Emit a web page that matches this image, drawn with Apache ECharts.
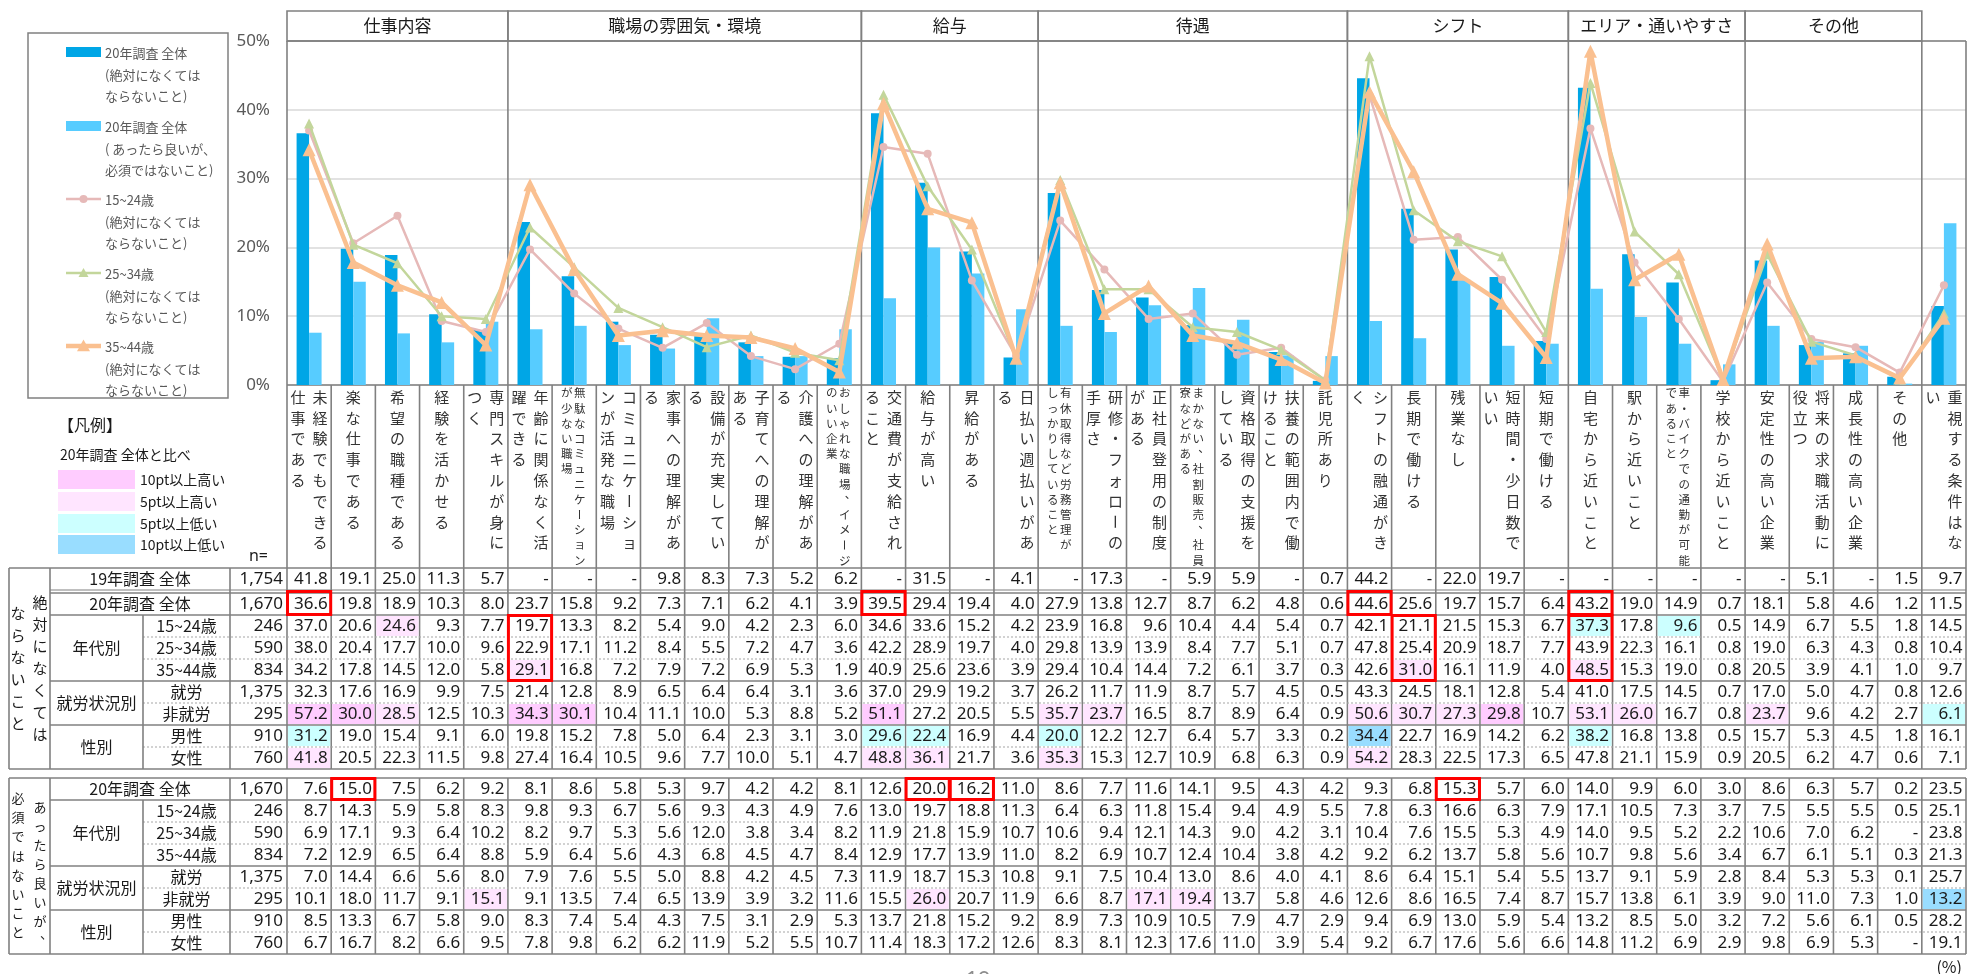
<!DOCTYPE html>
<html><head><meta charset="utf-8">
<script src="https://cdn.jsdelivr.net/npm/echarts@6/dist/echarts.min.js"></script>
<style>html,body{margin:0;padding:0;background:#fff}#c{width:1968px;height:974px}</style>
</head><body><div id="c"></div><script>
// ---------- data ----------
const categoryLines = [
 ['未経験でもできる','仕事である'],['楽な仕事である'],['希望の職種である'],['経験を活かせる'],['専門スキルが身に','つく'],
 ['年齢に関係なく活','躍できる'],['無駄なコミュニケーション','が少ない職場'],['コミュニケーショ','ンが活発な職場'],['家事への理解があ','る'],
 ['設備が充実してい','る'],['子育てへの理解が','ある'],['介護への理解があ','る'],['おしゃれな職場、イメージ','のいい企業'],
 ['交通費が支給され','ること'],['給与が高い'],['昇給がある'],['日払い週払いがあ','る'],
 ['有休取得など労務管理が','しっかりしていること'],['研修・フォローの','手厚さ'],['正社員登用の制度','がある'],['まかない、社割販売、社員','寮などがある'],
 ['資格取得の支援を','している'],['扶養の範囲内で働','けること'],['託児所あり'],
 ['シフトの融通がき','く'],['長期で働ける'],['残業なし'],['短時間・少日数で','いい'],['短期で働ける'],
 ['自宅から近いこと'],['駅から近いこと'],['車・バイクでの通勤が可能','であること'],['学校から近いこと'],
 ['安定性の高い企業'],['将来の求職活動に','役立つ'],['成長性の高い企業'],['その他'],['重視する条件はな','い']
];
const categories = categoryLines.map(p => p.join(''));
const groupNames = ['仕事内容','職場の雰囲気・環境','給与','待遇','シフト','エリア・通いやすさ','その他'];
const groupSizes = [5,8,4,7,5,4,4];
const yTicks = [0,10,20,30,40,50];

const y19All    = [41.8,19.1,25.0,11.3,5.7,null,null,null,9.8,8.3,7.3,5.2,6.2,null,31.5,null,4.1,null,17.3,null,5.9,5.9,null,0.7,44.2,null,22.0,19.7,null,null,null,null,null,null,5.1,null,1.5,9.7];
const abs20All  = [36.6,19.8,18.9,10.3,8.0,23.7,15.8,9.2,7.3,7.1,6.2,4.1,3.9,39.5,29.4,19.4,4.0,27.9,13.8,12.7,8.7,6.2,4.8,0.6,44.6,25.6,19.7,15.7,6.4,43.2,19.0,14.9,0.7,18.1,5.8,4.6,1.2,11.5];
const abs1524   = [37.0,20.6,24.6,9.3,7.7,19.7,13.3,8.2,5.4,9.0,4.2,2.3,6.0,34.6,33.6,15.2,4.2,23.9,16.8,9.6,10.4,4.4,5.4,0.7,42.1,21.1,21.5,15.3,6.7,37.3,17.8,9.6,0.5,14.9,6.7,5.5,1.8,14.5];
const abs2534   = [38.0,20.4,17.7,10.0,9.6,22.9,17.1,11.2,8.4,5.5,7.2,4.7,3.6,42.2,28.9,19.7,4.0,29.8,13.9,13.9,8.4,7.7,5.1,0.7,47.8,25.4,20.9,18.7,7.7,43.9,22.3,16.1,0.8,19.0,6.3,4.3,0.8,10.4];
const abs3544   = [34.2,17.8,14.5,12.0,5.8,29.1,16.8,7.2,7.9,7.2,6.9,5.3,1.9,40.9,25.6,23.6,3.9,29.4,10.4,14.4,7.2,6.1,3.7,0.3,42.6,31.0,16.1,11.9,4.0,48.5,15.3,19.0,0.8,20.5,3.9,4.1,1.0,9.7];
const absWork   = [32.3,17.6,16.9,9.9,7.5,21.4,12.8,8.9,6.5,6.4,6.4,3.1,3.6,37.0,29.9,19.2,3.7,26.2,11.7,11.9,8.7,5.7,4.5,0.5,43.3,24.5,18.1,12.8,5.4,41.0,17.5,14.5,0.7,17.0,5.0,4.7,0.8,12.6];
const absNonWork= [57.2,30.0,28.5,12.5,10.3,34.3,30.1,10.4,11.1,10.0,5.3,8.8,5.2,51.1,27.2,20.5,5.5,35.7,23.7,16.5,8.7,8.9,6.4,0.9,50.6,30.7,27.3,29.8,10.7,53.1,26.0,16.7,0.8,23.7,9.6,4.2,2.7,6.1];
const absMale   = [31.2,19.0,15.4,9.1,6.0,19.8,15.2,7.8,5.0,6.4,2.3,3.1,3.0,29.6,22.4,16.9,4.4,20.0,12.2,12.7,6.4,5.7,3.3,0.2,34.4,22.7,16.9,14.2,6.2,38.2,16.8,13.8,0.5,15.7,5.3,4.5,1.8,16.1];
const absFemale = [41.8,20.5,22.3,11.5,9.8,27.4,16.4,10.5,9.6,7.7,10.0,5.1,4.7,48.8,36.1,21.7,3.6,35.3,15.3,12.7,10.9,6.8,6.3,0.9,54.2,28.3,22.5,17.3,6.5,47.8,21.1,15.9,0.9,20.5,6.2,4.7,0.6,7.1];

const opt20All  = [7.6,15.0,7.5,6.2,9.2,8.1,8.6,5.8,5.3,9.7,4.2,4.2,8.1,12.6,20.0,16.2,11.0,8.6,7.7,11.6,14.1,9.5,4.3,4.2,9.3,6.8,15.3,5.7,6.0,14.0,9.9,6.0,3.0,8.6,6.3,5.7,0.2,23.5];
const opt1524   = [8.7,14.3,5.9,5.8,8.3,9.8,9.3,6.7,5.6,9.3,4.3,4.9,7.6,13.0,19.7,18.8,11.3,6.4,6.3,11.8,15.4,9.4,4.9,5.5,7.8,6.3,16.6,6.3,7.9,17.1,10.5,7.3,3.7,7.5,5.5,5.5,0.5,25.1];
const opt2534   = [6.9,17.1,9.3,6.4,10.2,8.2,9.7,5.3,5.6,12.0,3.8,3.4,8.2,11.9,21.8,15.9,10.7,10.6,9.4,12.1,14.3,9.0,4.2,3.1,10.4,7.6,15.5,5.3,4.9,14.0,9.5,5.2,2.2,10.6,7.0,6.2,null,23.8];
const opt3544   = [7.2,12.9,6.5,6.4,8.8,5.9,6.4,5.6,4.3,6.8,4.5,4.7,8.4,12.9,17.7,13.9,11.0,8.2,6.9,10.7,12.4,10.4,3.8,4.2,9.2,6.2,13.7,5.8,5.6,10.7,9.8,5.6,3.4,6.7,6.1,5.1,0.3,21.3];
const optWork   = [7.0,14.4,6.6,5.6,8.0,7.9,7.6,5.5,5.0,8.8,4.2,4.5,7.3,11.9,18.7,15.3,10.8,9.1,7.5,10.4,13.0,8.6,4.0,4.1,8.6,6.4,15.1,5.4,5.5,13.7,9.1,5.9,2.8,8.4,5.3,5.3,0.1,25.7];
const optNonWork= [10.1,18.0,11.7,9.1,15.1,9.1,13.5,7.4,6.5,13.9,3.9,3.2,11.6,15.5,26.0,20.7,11.9,6.6,8.7,17.1,19.4,13.7,5.8,4.6,12.6,8.6,16.5,7.4,8.7,15.7,13.8,6.1,3.9,9.0,11.0,7.3,1.0,13.2];
const optMale   = [8.5,13.3,6.7,5.8,9.0,8.3,7.4,5.4,4.3,7.5,3.1,2.9,5.3,13.7,21.8,15.2,9.2,8.9,7.3,10.9,10.5,7.9,4.7,2.9,9.4,6.9,13.0,5.9,5.4,13.2,8.5,5.0,3.2,7.2,5.6,6.1,0.5,28.2];
const optFemale = [6.7,16.7,8.2,6.6,9.5,7.8,9.8,6.2,6.2,11.9,5.2,5.5,10.7,11.4,18.3,17.2,12.6,8.3,8.1,12.3,17.6,11.0,3.9,5.4,9.2,6.7,17.6,5.6,6.6,14.8,11.2,6.9,2.9,9.8,6.9,5.3,null,19.1];

const nAbs = [1754,1670,246,590,834,1375,295,910,760];
const nOpt = [1670,246,590,834,1375,295,910,760];
const absRowNames = ['19年調査 全体','20年調査 全体','15~24歳','25~34歳','35~44歳','就労','非就労','男性','女性'];
const optRowNames = ['20年調査 全体','15~24歳','25~34歳','35~44歳','就労','非就労','男性','女性'];
const groupRowNames = ['年代別','就労状況別','性別'];
// red emphasis boxes: [section, firstRow, lastRow, column]
const redBoxes = [[0,1,1,0],[0,1,1,13],[0,1,1,24],[0,1,1,29],[0,2,4,5],[0,2,4,25],[0,2,4,29],[1,0,0,1],[1,0,0,14],[1,0,0,15],[1,0,0,26]];
const legendNames = [
 ['20年調査 全体','(絶対になくては','ならないこと)'],
 ['20年調査 全体','( あったら良いが、','必須ではないこと)'],
 ['15~24歳','(絶対になくては','ならないこと)'],
 ['25~34歳','(絶対になくては','ならないこと)'],
 ['35~44歳','(絶対になくては','ならないこと)']
];
const diffLegend = ['10pt以上高い','5pt以上高い','5pt以上低い','10pt以上低い'];

// ---------- style ----------
const FJP = '"Noto Sans CJK JP","Noto Sans",sans-serif';
const FNUM = '"Noto Sans","Noto Sans CJK JP",sans-serif';
const C_DARK='#00A6E6', C_LIGHT='#57CCFF', C_PINK='#E6B9B8', C_GREEN='#C3D69B', C_ORANGE='#FAC090';
const HL = ['#FFCCFF','#FFE5FF','#CCFFFF','#99DDFF'];
const GRID = {left:287, top:41, width:1679, height:344};
const LINE = '#808080';

const chart = echarts.init(document.getElementById('c'));
const seriesNames = legendNames.map(a => a.join(''));
chart.setOption({
  animation:false,
  grid:{left:GRID.left, top:GRID.top, width:GRID.width, height:GRID.height, containLabel:false, outerBoundsMode:'none'},
  xAxis:{type:'category', data:categories, axisLabel:{show:false}, axisTick:{show:false}, axisLine:{show:false}, splitLine:{show:false}},
  yAxis:{type:'value', min:yTicks[0], max:yTicks[yTicks.length-1], interval:10,
    axisLabel:{formatter:'{value}%', fontSize:17, color:'#595959', margin:17, fontFamily:FNUM},
    axisLine:{show:false}, axisTick:{show:false}, splitLine:{lineStyle:{color:'#D9D9D9', width:1.5}}},
  series:[
    {name:seriesNames[0], type:'bar', data:abs20All, barWidth:12.5, barGap:'0%', itemStyle:{color:C_DARK}, z:2},
    {name:seriesNames[1], type:'bar', data:opt20All, barWidth:12.5, barGap:'0%', itemStyle:{color:C_LIGHT}, z:2},
    {name:seriesNames[2], type:'line', data:abs1524, symbol:'circle', symbolSize:8, lineStyle:{color:C_PINK, width:2.5}, itemStyle:{color:C_PINK}, z:3},
    {name:seriesNames[3], type:'line', data:abs2534, symbol:'triangle', symbolSize:10, lineStyle:{color:C_GREEN, width:2.5}, itemStyle:{color:C_GREEN}, z:4},
    {name:seriesNames[4], type:'line', data:abs3544, symbol:'triangle', symbolSize:13, lineStyle:{color:C_ORANGE, width:4.5}, itemStyle:{color:C_ORANGE}, z:5}
  ]
});

// ---------- graphic (labels, frame, table) ----------
const els = [];
function L(x1,y1,x2,y2,color,w,dash){ els.push({type:'line', silent:true, z:1, shape:{x1,y1,x2,y2}, style:{stroke:color||LINE, lineWidth:w||1.6, lineDash:dash||null}}); }
function R(x,y,w,h,fill,stroke,lw){ els.push({type:'rect', silent:true, z:1, shape:{x,y,width:w,height:h}, style:{fill:fill||'none', stroke:stroke||null, lineWidth:lw||0}}); }
function T(str,x,y,size,color,align,font,rot){ els.push({type:'text', silent:true, z:1, x, y, rotation:rot||0, style:{text:str, fontSize:size, fontFamily:font||FJP, fill:color||'#1a1a1a', textAlign:align||'left', align:align||'left', textVerticalAlign:'middle', verticalAlign:'middle'}}); }
function V(str,x,y0,pitch,size,color){
  [...str].forEach((ch,k)=>{
    let dx=0, dy=0, rot=0;
    if (ch==='ー') rot = Math.PI/2;
    if (ch==='、'||ch==='。'){ dx=size*0.5; dy=-size*0.5; }
    T(ch, x+dx, y0+k*pitch+dy, size, color, 'center', FJP, rot);
  });
}

const n = categories.length;
const cx = categories.map((c,i)=>chart.convertToPixel({xAxisIndex:0}, i));
const colW = GRID.width/n;
const bx = i => (i<n ? cx[i]-colW/2 : cx[n-1]+colW/2);
const yPx = v => chart.convertToPixel({yAxisIndex:0}, v);
const plotTop = yPx(50), plotBot = yPx(0);
const HEAD_TOP = 11;

// header group boxes
let gi = 0;
groupSizes.forEach((s,g)=>{
  const x1 = bx(gi), x2 = bx(gi+s);
  R(x1, HEAD_TOP, x2-x1, plotTop-HEAD_TOP, null, LINE, 1.6);
  T(groupNames[g], (x1+x2)/2, (HEAD_TOP+plotTop)/2, 17, '#1a1a1a', 'center');
  L(x2, plotTop, x2, plotBot);
  gi += s;
});
// plot frame
L(bx(0), plotTop, bx(n), plotTop);
L(bx(0), plotTop, bx(0), plotBot);
L(bx(n), plotTop, bx(n), plotBot);
L(bx(0), plotBot, bx(n), plotBot);

// category labels (vertical text)
categoryLines.forEach((parts,i)=>{
  const small = parts[0].length > 8;
  const size = small ? 11.5 : 15, pitch = small ? 15.2 : 20.8;
  const y0 = plotBot + (small ? 8 : 12);
  if (parts.length === 1) V(parts[0], cx[i], y0, pitch, size, '#333');
  else {
    V(parts[0], cx[i] + (small ? 5.5 : 11), y0, pitch, size, '#333');
    V(parts[1], cx[i] - (small ? 7.5 : 11), y0, pitch, size, '#333');
  }
});

// table geometry
const S1 = [568,593,615,637,659,681,703,725,747], S1B = 769;
const S2 = [778,800,822,844,866,888,910,932], S2B = 954;
const X0 = 9, XG = 50, XS = 143, XN = 230, TR = bx(n);

// column verticals
for (let i=0;i<=n;i++){ L(bx(i), plotBot, bx(i), S1B); L(bx(i), S2[0], bx(i), S2B); }
T('n=', 268, 556, 16, '#1a1a1a', 'right', FNUM);

function cellColor(v, base){
  if (v==null || base==null) return null;
  const d = Math.round((v-base)*10)/10;
  if (d >= 10) return HL[0];
  if (d >= 5) return HL[1];
  if (d <= -10) return HL[3];
  if (d <= -5) return HL[2];
  return null;
}
const fmt = v => v==null ? '-' : v.toFixed(1);
const fmtN = v => v.toLocaleString('en-US');

function drawSection(tops, bottom, rows, names, ns, baseIdx, groupStart){
  rows.forEach((arr,r)=>{
    const yT = tops[r], yB = (r+1<tops.length ? (r===0 && tops===S1 ? 590 : tops[r+1]) : bottom);
    const yc = (yT+yB)/2;
    arr.forEach((v,i)=>{
      const col = r > baseIdx ? cellColor(v, rows[baseIdx][i]) : null;
      if (col) R(bx(i)+1, yT+1, colW-2, yB-yT-2, col);
      T(fmt(v), bx(i+1)-3.5, yc+0.5, 17, '#1a1a1a', 'right', FNUM);
    });
    T(fmtN(ns[r]), bx(0)-4, yc+0.5, 17, '#1a1a1a', 'right', FNUM);
    if (r < groupStart) T(names[r], (XG+XN)/2, yc, 16, '#1a1a1a', 'center');
    else T(names[r], (XS+XN)/2, yc, 16, '#1a1a1a', 'center');
  });
  const spans = [[groupStart, groupStart+2],[groupStart+3, groupStart+4],[groupStart+5, groupStart+6]];
  spans.forEach((sp,g)=>{
    const yT = tops[sp[0]], yB = (sp[1]+1<tops.length ? tops[sp[1]+1] : bottom);
    T(groupRowNames[g], (XG+XS)/2, (yT+yB)/2, 16, '#1a1a1a', 'center');
  });
  L(X0, tops[0], TR, tops[0]);
  L(X0, bottom, TR, bottom);
  for (let r=1;r<tops.length;r++){
    const inGroup = r>groupStart && r!==groupStart+3 && r!==groupStart+5;
    if (inGroup) L(XS, tops[r], TR, tops[r], '#A6A6A6', 1, [2,2]);
    else L(XG, tops[r], TR, tops[r]);
  }
  L(X0, tops[0], X0, bottom); L(XG, tops[0], XG, bottom);
  L(XS, tops[groupStart], XS, bottom); L(XN, tops[0], XN, bottom);
}
drawSection(S1, S1B, [y19All,abs20All,abs1524,abs2534,abs3544,absWork,absNonWork,absMale,absFemale], absRowNames, nAbs, 1, 2);
L(XG, 590, TR, 590, LINE, 1.2);
drawSection(S2, S2B, [opt20All,opt1524,opt2534,opt3544,optWork,optNonWork,optMale,optFemale], optRowNames, nOpt, 0, 1);

// section vertical headings
V('絶対になくては', 40, 602, 22, 15, '#1a1a1a');
V('ならないこと', 18, 613, 22, 15, '#1a1a1a');
V('あったら良いが、', 40, 807, 19, 13, '#1a1a1a');
V('必須ではないこと', 18, 798, 19.2, 13, '#1a1a1a');

// red boxes
redBoxes.forEach(([s,r1,r2,c])=>{
  const tops = s===0 ? S1 : S2, bottom = s===0 ? S1B : S2B;
  const yT = (s===0 && r1===1) ? 591 : tops[r1];
  const yB = r2+1<tops.length ? (s===0 && r2===0 ? 590 : tops[r2+1]) : bottom;
  R(bx(c)+0.5, yT+0.5, colW-1, yB-yT-1, null, '#FF0000', 3);
});

// legend box
R(28, 33, 200, 365, null, LINE, 1.5);
const legY = [52, 126, 199, 273, 346];
const legC = [C_DARK, C_LIGHT, C_PINK, C_GREEN, C_ORANGE];
legY.forEach((y,k)=>{
  if (k<2) R(66, y-5, 35, 10, legC[k]);
  else {
    L(66, y, 101, y, legC[k], k===4?4.5:2.5);
    if (k===2) els.push({type:'circle', silent:true, z:2, shape:{cx:83.5, cy:y, r:4}, style:{fill:legC[k]}});
    else { const s = k===4?6.5:5; els.push({type:'polygon', silent:true, z:2, shape:{points:[[83.5,y-s],[83.5+s,y+s*0.8],[83.5-s,y+s*0.8]]}, style:{fill:legC[k]}}); }
  }
  legendNames[k].forEach((t,j)=> T(t, 105, y+1+j*21.7, 13, '#595959', 'left'));
});
// difference legend
T('【凡例】', 58, 425, 16, '#1a1a1a', 'left');
T('20年調査 全体と比べ', 60, 455, 14, '#1a1a1a', 'left');
[470,492,514,535].forEach((y,k)=>{ R(58, y, 77, 19, HL[k]); T(diffLegend[k], 140, y+10, 14, '#1a1a1a', 'left'); });

T('(%)', 1962, 967, 16, '#1a1a1a', 'right');
T('19', 978, 981, 22, '#8c8c8c', 'center', FNUM);

chart.setOption({graphic:{elements:els}});
</script></body></html>
